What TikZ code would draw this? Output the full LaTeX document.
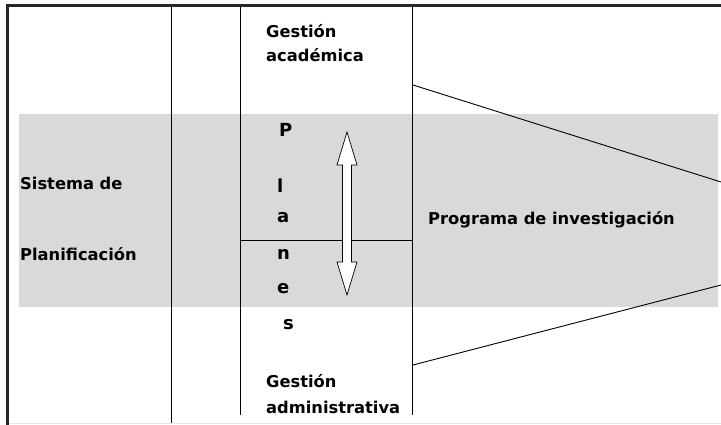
\documentclass[tikz,border=0pt]{standalone}
\usepackage{fontspec}
\setmainfont{DejaVu Sans}
\definecolor{band}{HTML}{D9D9D9}
\definecolor{lightline}{HTML}{E6E6E6}
\begin{document}
\begin{tikzpicture}[x=1pt,y=-1pt,
  lbl/.style={anchor=base west,inner sep=0pt,font=\fontsize{16.3}{18}\selectfont\bfseries},
  letter/.style={anchor=base west,inner sep=0pt,font=\fontsize{18}{20}\selectfont\bfseries},
  thin/.style={draw=black,line width=0.9pt},
  frame/.style={draw=black!85,line width=3pt}]
\useasboundingbox (0,0) rectangle (721,425);
\fill[band] (19,114) rectangle (718,307);
% frame
\draw[lightline,line width=1pt] (7,423) -- (721,423);
\draw[frame] (7,425) -- (7,6) -- (721,6);
% columns
\coordinate (c1t) at (171,7); \coordinate (c1b) at (171,423);
\coordinate (c2t) at (240,7); \coordinate (c2b) at (240,415);
\coordinate (c3t) at (412,7); \coordinate (c3b) at (412,415);
\draw[thin] (c1t) -- (c1b);
\draw[thin] (c2t) -- (c2b);
\draw[thin] (c3t) -- (c3b);
\coordinate (hl) at (240,240); \coordinate (hr) at (412,240);
\draw[thin] (hl) -- (hr);
% funnel
\coordinate (f1) at (413,85); \coordinate (f2) at (721,182);
\coordinate (f3) at (413,365); \coordinate (f4) at (721,285);
\draw[thin] (f1) -- (f2);
\draw[thin] (f3) -- (f4);
% double arrow
\draw[fill=white,draw=black,line width=0.7pt]
  (347,132) -- (357,165) -- (351.5,165) -- (351.5,262) -- (357,262) -- (347,295)
  -- (337,262) -- (342.5,262) -- (342.5,165) -- (337,165) -- cycle;
% texts
\node[lbl] (ga1) at (266,38) {Gestión};
\node[lbl] (ga2) at (266,62) {académica};
\node[lbl] (sd) at (20,190) {Sistema de};
\node[lbl] (pl) at (20,260) {Planificación};
\node[lbl] (pi) at (428,225) {Programa de investigación};
\node[lbl] (gd1) at (266,387) {Gestión};
\node[lbl] (gd2) at (266,413) {administrativa};
\node[letter] (p1) at (279,137) {P};
\node[letter] (p2) at (277,193) {l};
\node[letter] (p3) at (277,223) {a};
\node[letter] (p4) at (277,259) {n};
\node[letter] (p5) at (277,294) {e};
\node[letter] (p6) at (283,329) {s};
\end{tikzpicture}
\end{document}
